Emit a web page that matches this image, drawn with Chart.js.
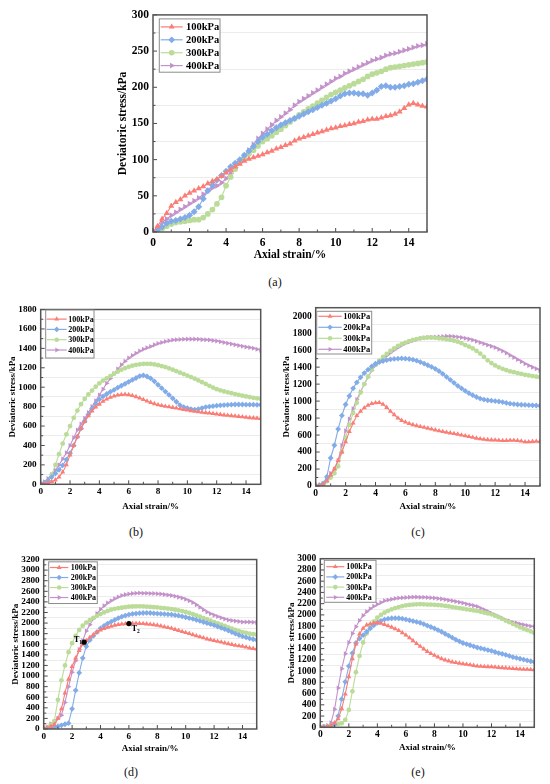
<!DOCTYPE html>
<html>
<head>
<meta charset="utf-8">
<script src="https://cdn.jsdelivr.net/npm/chart.js@4.4.1/dist/chart.umd.min.js"></script>
<style>
  html, body { margin: 0; padding: 0; background: #fff; }
  body { width: 550px; height: 784px; position: relative; overflow: hidden; }
  canvas { position: absolute; }
  .cap { position: absolute; font: 12px "Liberation Serif", serif; color: #111; transform: translate(-50%, -50%); }
</style>
</head>
<body>
<canvas id="pa"></canvas>
<canvas id="pb"></canvas>
<canvas id="pc"></canvas>
<canvas id="pd"></canvas>
<canvas id="pe"></canvas>
<div class="cap" style="left:275px;top:282px">(a)</div>
<div class="cap" style="left:136px;top:532px">(b)</div>
<div class="cap" style="left:418px;top:532px">(c)</div>
<div class="cap" style="left:131px;top:772px">(d)</div>
<div class="cap" style="left:418px;top:772px">(e)</div>
<script>
// axial strain (%), shared by every panel
const strain = [0,0.25,0.5,0.75,1,1.25,1.5,1.75,2,2.25,2.5,2.75,3,3.25,3.5,3.75,4,4.25,4.5,4.75,
  5,5.25,5.5,5.75,6,6.25,6.5,6.75,7,7.25,7.5,7.75,8,8.25,8.5,8.75,9,9.25,9.5,9.75,
  10,10.25,10.5,10.75,11,11.25,11.5,11.75,12,12.25,12.5,12.75,13,13.25,13.5,13.75,14,14.25,14.5,14.75,15];

const seriesLabels = ['100kPa', '200kPa', '300kPa', '400kPa'];

// (a) deviatoric stress, kPa
const a100 = [0,8,18,26, 36,41,45,50, 54,57,60,63, 67,70,73,77, 82,86,90,94, 98,101,103,105, 107,110,112,115, 117,120,122,126, 129,131,133,135, 137,139,141,143, 144,146,147,149, 150,152,153,155, 156,156,158,160, 161,163,166,171, 176,178,176,174, 173];
const a200 = [0,3,7,12, 15,16,18,20, 23,28,35,46, 57,65,72,78, 84,90,95,100, 106,112,118,125, 131,135,140,144, 148,151,154,157, 160,163,166,169, 172,175,178,181, 184,188,191,192, 192,191,191,189, 192,196,201,202, 200,200,201,202, 204,205,207,209, 211];
const a300 = [0,2,5,8, 11,13,14,15, 16,17,17,20, 25,31,39,48, 64,76,87,96, 103,108,113,119, 125,129,133,138, 142,147,152,157, 162,166,170,174, 178,182,186,190, 193,196,199,202, 205,208,211,215, 218,220,222,225, 227,228,229,230, 231,232,233,234, 235];
const a400 = [0,6,13,18, 23,27,31,35, 39,43,47,52, 57,61,64,68, 74,81,89,97, 105,113,121,129, 136,142,148,154, 159,164,169,175, 180,184,188,192, 196,200,204,208, 212,215,219,222, 225,228,231,234, 237,239,241,244, 246,247,249,251, 253,255,257,258, 260];

// (b)
const b100 = [0,5,15,28, 45,75,125,200, 300,400,490,575, 645,705,755,795, 825,855,878,895, 908,918,924,926, 922,914,902,888, 872,857,843,830, 818,810,803,797, 791,784,777,770, 764,758,752,746, 741,737,733,728, 723,719,714,710, 706,702,698,694, 690,686,683,680, 677];
const b200 = [0,15,40,75, 110,150,195,255, 320,400,490,575, 650,720,780,830, 875,905,930,952, 972,995,1015,1035, 1055,1075,1095,1115, 1122,1110,1090,1060, 1025,990,955,920, 885,850,815,795, 785,775,770,775, 785,795,800,805, 810,813,816,818, 820,822,822,822, 820,820,820,818, 818];
const b300 = [0,10,35,100, 200,310,420,515, 600,685,760,825, 880,925,965,1005, 1040,1068,1092,1115, 1138,1160,1180,1196, 1210,1221,1230,1236, 1240,1241,1239,1234, 1227,1218,1207,1194, 1180,1165,1150,1135, 1120,1104,1088,1070, 1052,1033,1014,996, 980,968,957,947, 938,929,920,912, 905,898,891,885, 880];
const b400 = [0,25,60,100, 145,200,260,325, 400,480,560,620, 680,740,800,860, 920,980,1040,1090, 1140,1187,1230,1268, 1300,1327,1350,1372, 1390,1406,1420,1436, 1450,1460,1470,1478, 1485,1488,1491,1493, 1495,1495,1495,1493, 1490,1488,1485,1480, 1475,1468,1460,1452, 1445,1438,1430,1422, 1415,1408,1400,1390, 1380];

// (c)
const c100 = [0,8,20,60, 130,200,300,400, 520,640,740,830, 880,920,950,970, 980,982,962,925, 880,840,800,772, 752,735,722,710, 700,690,680,670, 660,650,640,632, 625,617,610,600, 590,582,573,563, 555,549,545,542, 540,537,535,535, 537,537,535,528, 520,520,524,526, 525];
const c200 = [0,10,30,110, 330,480,670,830, 960,1060,1150,1220, 1280,1330,1370,1410, 1440,1458,1472,1483, 1492,1497,1500,1502, 1500,1496,1488,1476, 1460,1442,1422,1402, 1380,1352,1320,1285, 1250,1215,1180,1150, 1120,1093,1070,1048, 1030,1018,1010,1005, 1000,995,988,978, 970,965,960,957, 955,952,950,948, 945];
const c300 = [0,8,20,55, 100,150,230,400, 570,720,860,980, 1100,1200,1290,1370, 1430,1478,1520,1557, 1590,1622,1650,1672, 1690,1706,1720,1731, 1740,1746,1750,1749, 1745,1740,1735,1728, 1720,1711,1700,1682, 1660,1642,1620,1592, 1560,1520,1480,1448, 1420,1398,1380,1364, 1350,1340,1330,1320, 1310,1302,1295,1288, 1280];
const c400 = [0,10,30,80, 150,200,300,480, 650,790,910,1020, 1110,1200,1280,1360, 1420,1462,1500,1537, 1570,1602,1630,1657, 1680,1696,1710,1726, 1740,1746,1750,1752, 1755,1758,1760,1763, 1765,1761,1755,1748, 1740,1730,1720,1706, 1690,1676,1660,1646, 1630,1610,1590,1566, 1540,1515,1490,1465, 1440,1420,1400,1380, 1360];

// (d)
const d100 = [0,20,50,80, 200,380,680,940, 1180,1340,1480,1600, 1670,1730,1780,1830, 1870,1895,1920,1940, 1960,1970,1980,1986, 1990,1993,1995,1993, 1990,1983,1975,1968, 1960,1945,1930,1915, 1900,1880,1860,1840, 1820,1800,1780,1760, 1740,1720,1700,1685, 1670,1655,1640,1625, 1610,1595,1580,1570, 1560,1545,1530,1520, 1510];
const d200 = [0,10,20,35, 50,70,90,110, 380,730,1060,1340, 1560,1680,1760,1830, 1900,1948,1990,2027, 2060,2092,2120,2142, 2160,2172,2180,2186, 2190,2191,2190,2185, 2180,2175,2170,2165, 2160,2150,2140,2125, 2110,2095,2080,2060, 2040,2020,2000,1980, 1960,1935,1910,1885, 1860,1830,1800,1775, 1750,1730,1710,1695, 1680];
const d300 = [0,30,80,150, 550,920,1200,1450, 1620,1760,1870,1950, 2010,2058,2100,2137, 2170,2202,2230,2252, 2270,2282,2290,2300, 2310,2313,2315,2316, 2315,2310,2305,2300, 2295,2288,2280,2273, 2265,2253,2240,2226, 2210,2192,2170,2145, 2120,2095,2070,2045, 2020,1995,1970,1945, 1920,1895,1870,1850, 1830,1815,1800,1790, 1780];
const d400 = [0,40,100,130, 200,260,500,800, 1070,1290,1500,1670, 1850,1970,2080,2180, 2260,2325,2380,2422, 2460,2492,2520,2537, 2550,2558,2565,2566, 2565,2563,2560,2558, 2555,2548,2540,2530, 2520,2506,2490,2472, 2450,2423,2390,2348, 2300,2253,2210,2177, 2150,2124,2100,2078, 2060,2048,2040,2030, 2020,2022,2020,2015, 2010];
// marked points T1, T2 on panel (d)
const noteStrain = [2.85, 6];
const noteStress = [1640, 1990];
const noteSubs = ['1', '2'];

// (e)
const e100 = [0,5,10,30, 80,150,330,590, 900,1220,1480,1660, 1760,1820,1840,1855, 1860,1850,1830,1805, 1780,1752,1720,1682, 1640,1592,1540,1490, 1440,1393,1350,1312, 1280,1248,1220,1198, 1180,1163,1150,1140, 1130,1120,1110,1100, 1090,1085,1080,1077, 1075,1070,1065,1060, 1055,1050,1045,1040, 1035,1032,1030,1027, 1025];
const e200 = [0,5,10,25, 50,200,500,810, 1090,1320,1500,1580, 1640,1700,1760,1815, 1860,1895,1920,1933, 1940,1942,1940,1932, 1920,1905,1890,1875, 1860,1836,1810,1785, 1760,1730,1700,1665, 1630,1595,1560,1530, 1500,1480,1460,1440, 1420,1405,1390,1375, 1360,1340,1320,1305, 1290,1270,1250,1235, 1220,1205,1190,1175, 1160];
const e300 = [0,10,20,35, 50,60,70,130, 310,640,980,1270, 1510,1670,1800,1880, 1950,2000,2040,2072, 2100,2122,2140,2157, 2170,2178,2185,2188, 2190,2188,2185,2183, 2180,2175,2170,2160, 2150,2140,2130,2120, 2110,2100,2090,2080, 2070,2055,2040,2025, 2010,1985,1960,1930, 1900,1870,1840,1810, 1780,1755,1730,1705, 1680];
const e400 = [0,10,30,80, 320,700,1040,1310, 1510,1670,1790,1900, 1990,2055,2110,2155, 2190,2222,2250,2267, 2280,2290,2300,2305, 2310,2315,2320,2318, 2315,2313,2310,2305, 2300,2293,2285,2273, 2260,2250,2240,2225, 2210,2195,2180,2165, 2150,2120,2090,2060, 2030,2000,1970,1940, 1910,1890,1870,1855, 1840,1825,1810,1800, 1790];

// series styles
const colors = ['rgb(250,125,118)', 'rgb(130,172,232)', 'rgb(186,220,152)', 'rgb(196,146,202)'];
const markers = ['triangle', 'rectRot', 'circle', 'triangle'];
const markerRot = [0, 0, 0, 90];
const markerScale = [1, 1, 0.82, 1];
const FONT = '"Liberation Serif", "Times New Roman", serif';

// panel layout (page pixels): plot box, title positions, fonts, legend box relative to plot
const panels = [
  { id: 'pa', series: [a100, a200, a300, a400], yMax: 300, yStep: 25, yMajor: 50,
    plot: { l: 153, t: 12, r: 427, b: 232 }, yTitleX: 122.7, xTitleY: 255.5,
    tickFont: 11.5, titleFont: 11.5, xTickPad: 4, radius: 3.5,
    legend: { x: 6.3, y: 4, w: 60.7, h: 53.3, first: 8, gap: 12.9, l0: 1.4, l1: 23.4, tx: 26.7, font: 10.5, r: 3.4 } },
  { id: 'pb', series: [b100, b200, b300, b400], yMax: 1800, yStep: 100, yMajor: 200,
    plot: { l: 40.7, t: 307.7, r: 260.7, b: 484.3 }, yTitleX: 12.3, xTitleY: 507,
    tickFont: 9.2, titleFont: 9, xTickPad: 2, radius: 2.9,
    legend: { x: 5, y: 0.5, w: 48.3, h: 48, first: 9.1, gap: 10.3, l0: 1, l1: 21, tx: 22.6, font: 8, r: 2.8 } },
  { id: 'pc', series: [c100, c200, c300, c400], yMax: 2100, yStep: 100, yMajor: 200,
    plot: { l: 315.7, t: 305.7, r: 540, b: 486 }, yTitleX: 286.7, xTitleY: 506.7,
    tickFont: 9.5, titleFont: 9, xTickPad: 2, radius: 2.9,
    legend: { x: 1, y: 3.6, w: 55, h: 42.7, first: 5, gap: 11, l0: 1.6, l1: 25, tx: 26.6, font: 8.5, r: 2.8 } },
  { id: 'pd', series: [d100, d200, d300, d400], yMax: 3200, yStep: 100, yMajor: 200,
    plot: { l: 43.7, t: 557.7, r: 256.7, b: 729 }, yTitleX: 15, xTitleY: 748.3,
    tickFont: 9.2, titleFont: 9, xTickPad: 2, radius: 2.9,
    legend: { x: 5, y: 2.3, w: 48.6, h: 41.7, first: 5.7, gap: 10, l0: 1.3, l1: 19.6, tx: 22, font: 8, r: 2.8 },
    notes: true },
  { id: 'pe', series: [e100, e200, e300, e400], yMax: 3000, yStep: 100, yMajor: 200,
    plot: { l: 320.3, t: 556.7, r: 534.3, b: 727.3 }, yTitleX: 291.7, xTitleY: 747.3,
    tickFont: 9.5, titleFont: 9, xTickPad: 2, radius: 2.9,
    legend: { x: 4, y: 1.6, w: 51.7, h: 42, first: 6.4, gap: 10.2, l0: 2, l1: 20, tx: 22, font: 8, r: 2.8 } }
];

function drawMarker(ctx, style, rot, x, y, r) {
  ctx.beginPath();
  if (style === 'circle') {
    ctx.arc(x, y, r, 0, Math.PI * 2);
  } else {
    const n = style === 'triangle' ? 3 : 4;
    let ang = rot * Math.PI / 180;
    for (let k = 0; k < n; k++) {
      const px = x + Math.sin(ang) * r, py = y - Math.cos(ang) * r;
      k === 0 ? ctx.moveTo(px, py) : ctx.lineTo(px, py);
      ang += Math.PI * 2 / n;
    }
    ctx.closePath();
  }
  ctx.fill();
}

// frame, inward ticks, legend and point notes
function makeDeco(p) {
  return {
    id: 'deco' + p.id,
    afterDraw(chart) {
      const { ctx, chartArea: a, scales: { x, y } } = chart;
      ctx.save();
      ctx.strokeStyle = '#4a4a4a';
      ctx.lineWidth = 1;
      ctx.beginPath();
      for (let v = 0; v <= 15; v++) {
        const px = x.getPixelForValue(v), len = v % 2 === 0 ? 4 : 2.5;
        ctx.moveTo(px, a.bottom); ctx.lineTo(px, a.bottom - len);
      }
      for (let v = 0; v <= p.yMax; v += p.yStep) {
        const py = y.getPixelForValue(v), len = v % p.yMajor === 0 ? 4 : 2.5;
        ctx.moveTo(a.left, py); ctx.lineTo(a.left + len, py);
      }
      ctx.stroke();
      ctx.lineWidth = 1.5;
      ctx.strokeStyle = '#555';
      ctx.strokeRect(a.left, a.top, a.right - a.left, a.bottom - a.top);

      // legend
      const lg = p.legend;
      const bx = a.left + lg.x, by = a.top + lg.y;
      ctx.fillStyle = '#fff';
      ctx.fillRect(bx, by, lg.w, lg.h);
      ctx.lineWidth = 1;
      ctx.strokeStyle = '#8c8c8c';
      ctx.strokeRect(bx, by, lg.w, lg.h);
      ctx.font = 'bold ' + lg.font + 'px ' + FONT;
      ctx.textBaseline = 'middle';
      seriesLabels.forEach((name, i) => {
        const yy = by + lg.first + i * lg.gap;
        ctx.strokeStyle = colors[i];
        ctx.lineWidth = 1.2;
        ctx.beginPath();
        ctx.moveTo(bx + lg.l0, yy); ctx.lineTo(bx + lg.l1, yy);
        ctx.stroke();
        ctx.fillStyle = colors[i];
        drawMarker(ctx, markers[i], markerRot[i], bx + (lg.l0 + lg.l1) / 2, yy, lg.r * markerScale[i]);
        ctx.fillStyle = '#000';
        ctx.fillText(name, bx + lg.tx, yy + 0.5);
      });

      if (p.notes) {
        ctx.fillStyle = '#000';
        noteStrain.forEach((s, i) => {
          const px = x.getPixelForValue(s), py = y.getPixelForValue(noteStress[i]);
          ctx.beginPath();
          ctx.arc(px, py, 2.6, 0, Math.PI * 2);
          ctx.fill();
          const tx = i === 0 ? px - 10.5 : px + 2.5;
          const ty = i === 0 ? py - 2.5 : py + 5;
          ctx.font = 'bold 8.5px ' + FONT;
          ctx.fillText('T', tx, ty);
          ctx.font = 'bold 5.5px ' + FONT;
          ctx.fillText(noteSubs[i], tx + 5.5, ty + 2.5);
        });
      }
      ctx.restore();
    }
  };
}

function buildChart(p) {
  const lh = p.titleFont * 1.2;
  const left = Math.round(p.yTitleX - lh / 2);
  const top = Math.round(p.plot.t - 8);
  const right = Math.round(p.plot.r + 8);
  const bottom = Math.round(p.xTitleY + lh / 2);
  const yW = p.plot.l - left;
  const xH = bottom - p.plot.b;
  const cv = document.getElementById(p.id);
  cv.width = right - left;
  cv.height = bottom - top;
  cv.style.left = left + 'px';
  cv.style.top = top + 'px';

  const datasets = p.series.map((vals, i) => ({
    label: seriesLabels[i],
    data: strain.map((s, k) => ({ x: s, y: vals[k] })),
    borderColor: colors[i],
    backgroundColor: colors[i],
    borderWidth: 1.1,
    pointStyle: markers[i],
    rotation: markerRot[i],
    pointRadius: p.radius * markerScale[i],
    pointBorderWidth: 0,
    pointBackgroundColor: colors[i],
    tension: 0
  }));

  new Chart(cv, {
    type: 'line',
    data: { datasets },
    options: {
      responsive: false,
      animation: false,
      events: [],
      layout: { padding: { left: 0, bottom: 0, top: p.plot.t - top, right: right - p.plot.r } },
      plugins: { legend: { display: false }, tooltip: { enabled: false } },
      scales: {
        x: {
          type: 'linear', min: 0, max: 15,
          afterFit: s => { s.height = xH; },
          grid: { display: false, drawTicks: false },
          border: { display: false },
          ticks: {
            stepSize: 1, autoSkip: false, maxRotation: 0, padding: p.xTickPad, color: '#000',
            font: { family: FONT, size: p.tickFont, weight: 'bold' },
            callback: v => (v % 2 === 0 ? v : '')
          },
          title: { display: true, text: 'Axial strain/%', padding: 0, color: '#000',
            font: { family: FONT, size: p.titleFont, weight: 'bold' } }
        },
        y: {
          type: 'linear', min: 0, max: p.yMax,
          afterFit: s => { s.width = yW; },
          grid: {
            drawTicks: false, lineWidth: 1,
            color: c => (c.tick && c.tick.value % p.yMajor !== 0 && c.tick.value < p.yMax) ? '#ececec' : 'rgba(0,0,0,0)'
          },
          border: { display: false },
          ticks: {
            stepSize: p.yStep, includeBounds: false, autoSkip: false, padding: 4, color: '#000',
            font: { family: FONT, size: p.tickFont, weight: 'bold' },
            callback: v => (v % p.yMajor === 0 ? v : '')
          },
          title: { display: true, text: 'Deviatoric stress/kPa', padding: 0, color: '#000',
            font: { family: FONT, size: p.titleFont, weight: 'bold' } }
        }
      }
    },
    plugins: [makeDeco(p)]
  });
}

panels.forEach(buildChart);
</script>
</body>
</html>
